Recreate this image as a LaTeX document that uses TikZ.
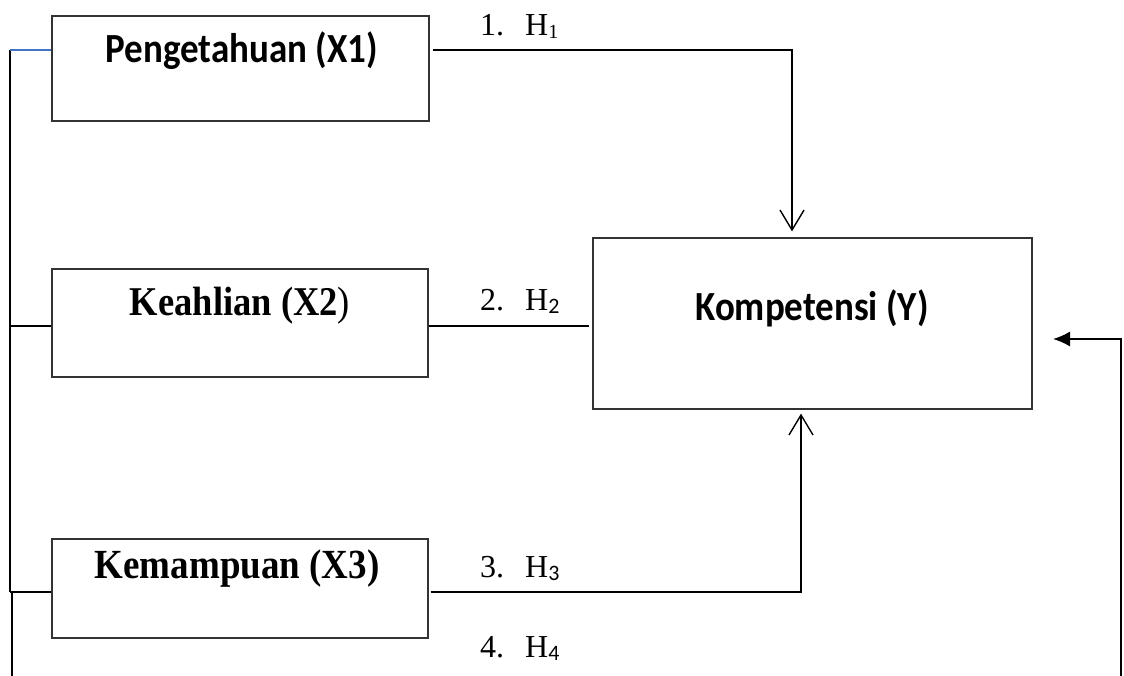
\documentclass[tikz,border=0pt]{standalone}
\usepackage{fontspec}
\setmainfont{Liberation Serif}
\newfontfamily\carlito{Carlito}
\usetikzlibrary{arrows.meta,calc}
\definecolor{wordblue}{HTML}{4472C4}
% titles are set slightly taller than wide
\newcommand{\tall}[1]{\scalebox{1}[1.12]{#1}}
\begin{document}
\begin{tikzpicture}[x=1pt,y=-1pt,
  varbox/.style={draw=black!80,line width=1.2pt,inner sep=0pt},
  wire/.style={draw=black,line width=1.5pt},
  railwire/.style={draw=black,line width=1.1pt},
  openhead/.style={-{Straight Barb[length=20pt,width=24pt,line width=1.4pt]}},
  filledhead/.style={-{Latex[length=17pt,width=15pt]}},
  sanslab/.style={font=\carlito\bfseries\fontsize{37}{44}\selectfont,anchor=base,inner sep=0pt},
  seriflab/.style={font=\bfseries\fontsize{36.5}{44}\selectfont,anchor=base,inner sep=0pt},
  hyp/.style={font=\fontsize{32}{36}\selectfont,anchor=base west,inner sep=0pt}
]
\useasboundingbox (0,0) rectangle (1124,675);

% variable boxes
\node[varbox,minimum width=377pt,minimum height=105pt] (x1) at (240.5,68.5) {};
\node[varbox,minimum width=376pt,minimum height=108pt] (x2) at (240,323) {};
\node[varbox,minimum width=376pt,minimum height=99pt]  (x3) at (240,588.5) {};
\node[varbox,minimum width=439pt,minimum height=171pt] (y)  at (812.5,323.5) {};

% box titles
\node[sanslab]  (x1t) at (242,62)  {\tall{Pengetahuan (X1)}};
\node[seriflab] (x2t) at (240,315) {\tall{Keahlian (X2{\mdseries)}}};
\node[seriflab,font=\bfseries\fontsize{37}{44}\selectfont] (x3t) at (237,578) {\tall{Kemampuan (X3)}};
\node[sanslab]  (yt)  at (812,320) {\tall{Kompetensi (Y)}};

% hypothesis labels
\node[hyp] (h1) at (480,35)  {1.\hspace{21pt}H\raisebox{-3pt}{\fontsize{20}{20}\selectfont 1}};
\node[hyp] (h2) at (480,310) {2.\hspace{21pt}H\raisebox{-3pt}{\carlito\fontsize{22}{22}\selectfont 2}};
\node[hyp] (h3) at (480,577) {3.\hspace{21pt}H\raisebox{-3pt}{\carlito\fontsize{22}{22}\selectfont 3}};
\node[hyp] (h4) at (480,657) {4.\hspace{21pt}H\raisebox{-3pt}{\carlito\fontsize{22}{22}\selectfont 4}};

% routing points
\coordinate (r1) at (10,50);
\coordinate (r2) at (10,326);
\coordinate (r3) at (10,592);
\coordinate (r3b) at (12,592);
\coordinate (r4) at (12,676);
\coordinate (k1) at (792,50);
\coordinate (k3) at (801,592);
\coordinate (k2) at (589,326);
\coordinate (b1) at (1121,676);
\coordinate (b2) at (1121,339);
\coordinate (b3) at (1053,339);

% left rail and its stubs
\draw[railwire] (r1) -- (r3);
\draw[railwire] (r3b) -- (r4);
\draw[wordblue,line width=1.1pt] (r1) -- (r1 -| x1.west);
\draw[railwire] (r2) -- (r2 -| x2.west);
\draw[railwire] (r3) -- (r3 -| x3.west);

% paths into Kompetensi
\draw[wire,openhead] (k1 -| x1.east) ++(3,0) -- (k1) -- ($(k1 |- y.north)+(0,-6)$);
\draw[wire] (k2 -| x2.east) -- (k2);
\draw[wire,openhead] (k3 -| x3.east) ++(2,0) -- (k3) -- ($(k3 |- y.south)+(0,4)$);
\draw[wire,filledhead] (b1) -- (b2) -- (b3);
\end{tikzpicture}
\end{document}
